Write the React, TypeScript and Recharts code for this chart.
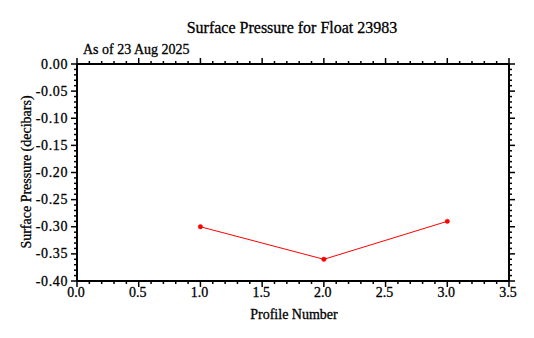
import React from 'react';
import { LineChart, Line, XAxis, YAxis } from 'recharts';

const profiles = [1, 2, 3];
const pressures = [-0.30, -0.36, -0.29];
const xMajorTicks = [0, 0.5, 1.0, 1.5, 2.0, 2.5, 3.0, 3.5];
const xMinorTicks = [0.1, 0.2, 0.3, 0.4, 0.6, 0.7, 0.8, 0.9, 1.1, 1.2, 1.3, 1.4, 1.6, 1.7, 1.8, 1.9, 2.1, 2.2, 2.3, 2.4, 2.6, 2.7, 2.8, 2.9, 3.1, 3.2, 3.3, 3.4];
const yMajorTicks = [0, -0.05, -0.10, -0.15, -0.20, -0.25, -0.30, -0.35, -0.40];
const yMinorTicks = [-0.01, -0.02, -0.03, -0.04, -0.06, -0.07, -0.08, -0.09, -0.11, -0.12, -0.13, -0.14, -0.16, -0.17, -0.18, -0.19, -0.21, -0.22, -0.23, -0.24, -0.26, -0.27, -0.28, -0.29, -0.31, -0.32, -0.33, -0.34, -0.36, -0.37, -0.38, -0.39];

const data = profiles.map((p, i) => ({ profile: p, pressure: pressures[i] }));
const xTicks = [...xMajorTicks, ...xMinorTicks];
const yTicks = [...yMajorTicks, ...yMinorTicks];

const FONT = '"Liberation Serif", "Times New Roman", serif';
const WEIGHT = 'normal';
const isMajor = (v: number, step: number) => Math.abs(v / step - Math.round(v / step)) < 1e-6;

const MAJOR = 6;
const MINOR = 3;

const XTickBottom = (props: any) => {
  const { x, y, payload } = props;
  const v = payload.value as number;
  const major = isMajor(v, 0.5);
  return (
    <g>
      <line x1={x} y1={y} x2={x} y2={y + (major ? MAJOR : MINOR)} stroke="#000" strokeWidth={1.5} />
      {major && (
        <text x={x - 1} y={y + 16} textAnchor="middle" fontFamily={FONT} fontWeight={WEIGHT} fontSize={14} stroke="#000" strokeWidth={0.3} fill="#000">
          {v.toFixed(1)}
        </text>
      )}
    </g>
  );
};

const XTickTop = (props: any) => {
  const { x, y, payload } = props;
  const v = payload.value as number;
  const major = isMajor(v, 0.5);
  return <line x1={x} y1={y} x2={x} y2={y - (major ? MAJOR : MINOR)} stroke="#000" strokeWidth={1.5} />;
};

const YTickLeft = (props: any) => {
  const { x, y, payload } = props;
  const v = payload.value as number;
  const major = isMajor(v, 0.05);
  return (
    <g>
      <line x1={x} y1={y} x2={x - (major ? MAJOR : MINOR)} y2={y} stroke="#000" strokeWidth={1.5} />
      {major && (
        <text x={x - 9} y={y + 4.5} textAnchor="end" fontFamily={FONT} fontWeight={WEIGHT} fontSize={14} letterSpacing={0.6} stroke="#000" strokeWidth={0.3} fill="#000">
          {v === 0 ? '0.00' : v.toFixed(2)}
        </text>
      )}
    </g>
  );
};

const YTickRight = (props: any) => {
  const { x, y, payload } = props;
  const v = payload.value as number;
  const major = isMajor(v, 0.05);
  return <line x1={x} y1={y} x2={x + (major ? MAJOR : MINOR)} y2={y} stroke="#000" strokeWidth={1.5} />;
};

const axisLine = { stroke: '#000', strokeWidth: 2 };

const textProps = { fontFamily: FONT, fontWeight: WEIGHT, fill: '#000', stroke: '#000', strokeWidth: 0.3 };

export default function App() {
  return (
    <div style={{ position: 'absolute', left: 0, top: 0, width: 534, height: 338, background: '#fff' }}>
      <LineChart
        width={534}
        height={338}
        data={data}
        margin={{ top: 54, left: 37, right: 15, bottom: 27 }}
      >
        <XAxis
          xAxisId="bottom"
          dataKey="profile"
          type="number"
          domain={[0, 3.5]}
          ticks={xTicks}
          interval={0}
          height={30}
          tickSize={0}
          tickMargin={0}
          tickLine={false}
          axisLine={axisLine}
          tick={<XTickBottom />}
        />
        <XAxis
          xAxisId="top"
          orientation="top"
          dataKey="profile"
          type="number"
          domain={[0, 3.5]}
          ticks={xTicks}
          interval={0}
          height={10}
          tickSize={0}
          tickMargin={0}
          tickLine={false}
          axisLine={axisLine}
          tick={<XTickTop />}
        />
        <YAxis
          yAxisId="left"
          type="number"
          domain={[-0.4, 0]}
          ticks={yTicks}
          interval={0}
          width={40}
          tickSize={0}
          tickMargin={0}
          tickLine={false}
          axisLine={axisLine}
          tick={<YTickLeft />}
        />
        <YAxis
          yAxisId="right"
          orientation="right"
          type="number"
          domain={[-0.4, 0]}
          ticks={yTicks}
          interval={0}
          width={10}
          tickSize={0}
          tickMargin={0}
          tickLine={false}
          axisLine={axisLine}
          tick={<YTickRight />}
        />
        <Line
          xAxisId="bottom"
          yAxisId="left"
          dataKey="pressure"
          stroke="#ff0000"
          strokeWidth={1}
          dot={{ r: 2.2, fill: '#ff0000', stroke: '#ff0000', strokeWidth: 0.5 }}
          isAnimationActive={false}
        />
        <Line
          xAxisId="top"
          yAxisId="right"
          dataKey="pressure"
          stroke="none"
          dot={false}
          activeDot={false}
          legendType="none"
          isAnimationActive={false}
        />
      </LineChart>
      <svg
        width={534}
        height={338}
        style={{ position: 'absolute', left: 0, top: 0, pointerEvents: 'none' }}
      >
        <text x={292} y={33} textAnchor="middle" fontSize={16} {...textProps}>
          Surface Pressure for Float 23983
        </text>
        <text x={83} y={54} textAnchor="start" fontSize={14} {...textProps}>
          As of 23 Aug 2025
        </text>
        <text x={294} y={319} textAnchor="middle" fontSize={14} {...textProps}>
          Profile Number
        </text>
        <text
          x={0}
          y={0}
          transform="translate(31,172) rotate(-90)"
          textAnchor="middle"
          fontSize={14}
          {...textProps}
        >
          Surface Pressure (decibars)
        </text>
      </svg>
    </div>
  );
}
